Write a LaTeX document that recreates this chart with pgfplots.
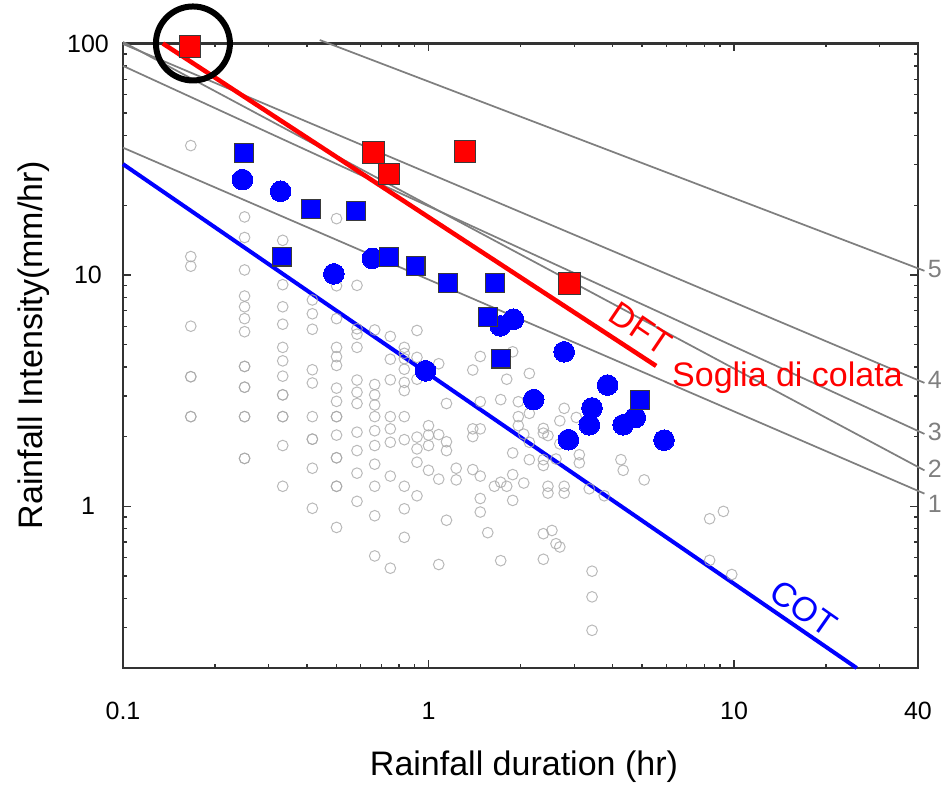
\documentclass[border=0pt]{standalone}
\usepackage{pgfplots}
\pgfplotsset{compat=1.18}
\usepackage{fontspec}
\setmainfont{Liberation Sans}
\definecolor{lineGray}{HTML}{7F7F7F}
\definecolor{ptGray}{HTML}{A8A8A8}
\definecolor{edgeGray}{HTML}{3A3A3A}
\definecolor{axisGray}{HTML}{333333}
\definecolor{pureRed}{HTML}{FF0000}
\definecolor{pureBlue}{HTML}{0000FF}

% Rainfall events (duration in hr, mean intensity in mm/hr)
\pgfplotstableread{
x y
0.1667 36.2
0.1667 12.0
0.1667 10.9
0.1667 6.0
0.1667 3.63
0.1667 3.63
0.1667 2.44
0.1667 2.44
0.25 17.8
0.25 14.5
0.25 10.5
0.25 8.1
0.25 7.28
0.25 6.47
0.25 5.68
0.25 4.02
0.25 4.02
0.25 3.27
0.25 3.27
0.25 2.44
0.25 2.44
0.25 1.61
0.25 1.61
0.3333 14.1
0.3333 9.07
0.3333 7.28
0.3333 6.12
0.3333 4.86
0.3333 4.25
0.3333 3.65
0.3333 3.03
0.3333 3.03
0.3333 2.44
0.3333 2.44
0.3333 1.83
0.3333 1.22
0.4167 7.79
0.4167 6.79
0.4167 5.82
0.4167 3.89
0.4167 3.41
0.4167 2.44
0.4167 1.95
0.4167 1.95
0.4167 1.46
0.4167 0.98
0.5 17.5
0.5 8.97
0.5 6.47
0.5 4.86
0.5 4.43
0.5 4.06
0.5 3.24
0.5 2.84
0.5 2.44
0.5 2.44
0.5 2.03
0.5 1.62
0.5 1.62
0.5 1.22
0.5 1.22
0.5 0.81
0.5833 9.01
0.5833 5.85
0.5833 5.54
0.5833 4.86
0.5833 3.51
0.5833 3.11
0.5833 2.78
0.5833 2.09
0.5833 1.74
0.5833 1.39
0.5833 1.05
0.6667 5.78
0.6667 3.36
0.6667 3.03
0.6667 2.74
0.6667 2.44
0.6667 2.12
0.6667 1.83
0.6667 1.52
0.6667 1.22
0.6667 0.91
0.6667 0.61
0.75 5.42
0.75 4.32
0.75 3.52
0.75 2.44
0.75 2.16
0.75 1.89
0.75 1.35
0.75 0.54
0.8333 4.86
0.8333 4.58
0.8333 4.34
0.8333 3.91
0.8333 3.43
0.8333 3.16
0.8333 2.44
0.8333 1.94
0.8333 1.22
0.8333 0.975
0.8333 0.734
0.9167 5.75
0.9167 4.40
0.9167 3.54
0.9167 1.99
0.9167 1.77
0.9167 1.55
0.9167 1.11
1.0 2.23
1.0 2.03
1.0 1.83
1.0 1.43
1.08 4.13
1.08 2.04
1.08 1.31
1.08 0.56
1.145 2.78
1.145 1.90
1.145 1.74
1.145 0.87
1.232 1.46
1.232 1.30
1.396 3.88
1.396 2.16
1.396 2.0
1.396 1.44
1.477 4.44
1.477 2.83
1.477 2.16
1.477 1.35
1.477 1.08
1.477 0.944
1.563 0.769
1.643 1.22
1.723 2.89
1.723 1.27
1.723 0.582
1.803 3.54
1.803 1.22
1.886 4.65
1.886 1.70
1.886 1.37
1.886 1.06
1.968 2.83
1.968 2.44
1.968 2.23
2.05 2.05
2.05 1.26
2.138 3.75
2.138 2.52
2.138 1.89
2.138 1.59
2.376 2.17
2.376 2.07
2.376 1.59
2.376 1.50
2.376 0.761
2.376 0.590
2.46 2.02
2.46 1.22
2.46 1.14
2.535 0.786
2.614 1.60
2.614 0.689
2.69 2.34
2.69 1.86
2.69 0.667
2.78 2.65
2.78 1.22
2.78 1.14
3.046 2.42
3.116 1.67
3.116 1.54
3.358 1.19
3.43 0.524
3.43 0.406
3.43 0.291
3.76 1.11
4.264 1.59
4.337 1.43
5.08 1.30
8.32 0.883
8.32 0.584
9.23 0.950
9.83 0.507
}\eventdata

% Events with observed flows
\pgfplotstableread{
x y
0.246 25.8
0.328 22.97
0.490 10.1
0.655 11.78
0.978 3.85
1.719 6.02
1.896 6.43
2.78 4.65
2.209 2.89
3.855 3.34
3.428 2.66
3.36 2.25
2.87 1.94
4.34 2.25
4.75 2.42
5.90 1.93
}\bluecircles

\pgfplotstableread{
x y
0.2485 33.6
0.4136 19.2
0.5773 18.9
0.3308 12.0
0.742 11.98
0.9068 10.9
1.157 9.25
1.652 9.25
1.563 6.58
1.732 4.35
4.93 2.89
}\bluesquares

\pgfplotstableread{
x y
0.1656 97
0.660 33.8
0.742 27.3
1.318 34.1
2.89 9.16
}\redsquares

\begin{document}
\begin{tikzpicture}
\path[use as bounding box] (-92.25pt,-88.5pt) rectangle (621pt,501pt);
\begin{axis}[
  at={(0,0)}, anchor=south west,
  scale only axis, width=596.25pt, height=468.4pt,
  xmode=log, ymode=log,
  xmin=0.1, xmax=40, ymin=0.2, ymax=100,
  clip=false,
  axis line style={line width=2.2pt, color=axisGray},
  tick style={color=axisGray, line width=1pt},
  tick align=inside,
  major tick length=6pt, minor tick length=3pt,
  xtick={0.1,1,10}, xticklabels={0.1,1,10},
  extra x ticks={40}, extra x tick labels={40},
  extra x tick style={major tick length=0pt},
  minor xtick={0.2,0.3,0.4,0.5,0.6,0.7,0.8,0.9,2,3,4,5,6,7,8,9,20,30},
  ytick={1,10,100}, yticklabels={1,10,100},
  minor ytick={0.3,0.4,0.5,0.6,0.7,0.8,0.9,2,3,4,5,6,7,8,9,20,30,40,50,60,70,80,90},
  tick label style={font=\fontsize{18.75}{22}\selectfont, color=black},
  xticklabel style={anchor=center, yshift=-32pt},
  yticklabel style={anchor=center, xshift=-26.25pt},
  label style={font=\fontsize{25.5}{30}\selectfont},
  xlabel={Rainfall duration (hr)},
  ylabel={Rainfall Intensity(mm/hr)},
  xlabel style={at={(axis description cs:0.5044,-0.1585)}, anchor=center},
  ylabel style={at={(axis description cs:-0.112,0.517)}, anchor=center},
]
% all recorded events
\addplot[only marks, mark=o, mark size=4pt,
  mark options={draw=ptGray, line width=0.75pt, draw opacity=0.8}]
  table[x=x,y=y]{\eventdata};
% triggering events
\addplot[only marks, mark=*, mark size=7.75pt,
  mark options={fill=pureBlue, draw=pureBlue, line width=0pt}]
  table[x=x,y=y]{\bluecircles};
\addplot[only marks, mark=square*, mark size=7.1pt,
  mark options={fill=pureBlue, draw=edgeGray, line width=0.8pt}]
  table[x=x,y=y]{\bluesquares};
\addplot[only marks, mark=square*, mark size=8.1pt,
  mark options={fill=pureRed, draw=edgeGray, line width=0.8pt}]
  table[x=x,y=y]{\redsquares};
% reference thresholds 1-5
\addplot[lineGray, line width=1.3pt] coordinates {(0.1,35.45) (42,1.134)};
\addplot[lineGray, line width=1.3pt] coordinates {(0.1,101.5) (42,1.429)};
\addplot[lineGray, line width=1.3pt] coordinates {(0.1,80.0) (42,2.054)};
\addplot[lineGray, line width=1.3pt] coordinates {(0.1,99.5) (42,3.414)};
\addplot[lineGray, line width=1.3pt] coordinates {(0.4406,103.5) (42,10.41)};
% DFT and COT thresholds
\addplot[pureRed, line width=3.4pt] coordinates {(0.135,100) (5.56,4.04)};
\addplot[pureBlue, line width=3pt] coordinates {(0.1,30.1) (25.2,0.2)};

\node[pureRed, rotate=-34, font=\fontsize{25.5}{30}\selectfont] at (axis cs:4.95,5.85) {DFT};
\node[pureRed, font=\fontsize{25.5}{30}\selectfont] at (axis cs:14.96,3.61) {Soglia di colata};
\node[pureBlue, rotate=-35, font=\fontsize{25.5}{30}\selectfont] at (axis cs:16.9,0.3615) {COT};

\begin{scope}[every node/.style={lineGray, font=\fontsize{18.75}{22}\selectfont}]
\node at (axis cs:45.4,10.56) {5};
\node at (axis cs:45.4,3.51) {4};
\node at (axis cs:45.4,2.095) {3};
\node at (axis cs:45.4,1.45) {2};
\node at (axis cs:45.4,1.025) {1};
\end{scope}

\draw[black, line width=4.5pt] (axis cs:0.1694,100) circle[radius=27.75pt];
\end{axis}
\end{tikzpicture}
\end{document}
